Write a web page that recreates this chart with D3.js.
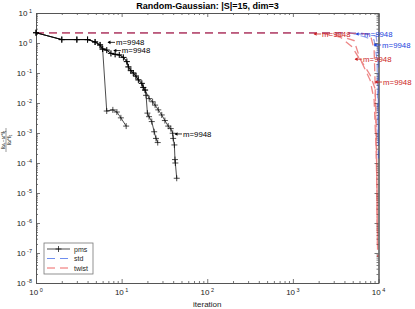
<!DOCTYPE html>
<html>
<head>
<meta charset="utf-8">
<script src="https://cdn.jsdelivr.net/npm/d3@7"></script>
<style>
  body { margin: 0; background: #fff; }
  svg { display: block; font-family: "Liberation Sans", Arial, sans-serif; }
</style>
</head>
<body>
<div id="chart"></div>
<script>
// DATA
const xTicks = [1, 10, 100, 1000, 10000];
const yTicks = [1e-8, 1e-7, 1e-6, 1e-5, 1e-4, 1e-3, 1e-2, 1e-1, 1, 10];

// pms runs [iteration, error]
const pmsRun1 = [[1, 2.2], [2, 1.3], [3, 1.3], [4, 1.3], [4.9, 1.08], [5.6, 0.86], [6, 0.63],
  [6.7, 0.0054], [7.9, 0.0059], [8.8, 0.005], [9.8, 0.0032], [11.3, 0.0017]];
const pmsRun2 = [[1, 2.2], [2, 1.3], [3, 1.3], [4, 1.3], [4.9, 1.08], [5.6, 0.86], [6, 0.63],
  [6.7, 0.58], [7.5, 0.45], [8.4, 0.42], [9.4, 0.4], [10.5, 0.33], [11.5, 0.24], [12, 0.16],
  [12.8, 0.12], [13.7, 0.1], [14.7, 0.079], [15.7, 0.059], [17.2, 0.045], [17.9, 0.033],
  [18.8, 0.027], [19.3, 0.018], [20, 0.0046], [20.9, 0.0035], [22.5, 0.0024], [24, 0.0011],
  [25.2, 0.00066], [26.4, 0.00048]];
const pmsRun3 = [[1, 2.2], [2, 1.3], [3, 1.3], [4, 1.3], [4.9, 1.08], [5.6, 0.86], [6, 0.63],
  [6.7, 0.58], [7.5, 0.45], [8.4, 0.42], [9.4, 0.4], [10.5, 0.33], [11.5, 0.24], [12, 0.16],
  [12.8, 0.12], [13.7, 0.1], [14.7, 0.079], [15.7, 0.059], [17.2, 0.045], [17.9, 0.033],
  [18.8, 0.027], [21, 0.014], [23, 0.011], [24.6, 0.0085], [26.8, 0.0059], [29.4, 0.004],
  [32, 0.0026], [35, 0.0017], [37.5, 0.0014], [39.5, 0.00098], [40, 0.00066], [41.3, 0.0004],
  [42, 0.00013], [42.4, 0.0001], [44, 0.000031]];

// std runs
const stdRun1 = [[1, 2.2], [4660, 2.2], [6970, 1.58], [8890, 1.26], [9630, 0.27], [9890, 5.8e-4]];
const stdRun2 = [[1, 2.2], [6095, 2.15], [9380, 1.71], [9890, 0.58], [9950, 1e-4]];

// twist runs
const twistRun1 = [[1, 2.2], [2078, 2.2], [3560, 1.58], [4920, 0.74], [6430, 0.215], [7980, 0.058],
  [8890, 0.0126], [9380, 2.7e-4], [9630, 6.3e-6], [9770, 7.4e-8]];
const twistRun2 = [[1, 2.2], [2721, 2.2], [5190, 1.2], [6095, 0.29], [7980, 0.086], [9120, 0.03],
  [9380, 0.0027], [9630, 1e-5], [9700, 2e-7]];
const twistRun3 = [[1, 2.2], [3560, 2.2], [7980, 2.0], [8890, 0.6], [9120, 0.05], [9500, 1e-4], [9630, 1e-6]];

// annotation tips
const labelsPms = [[6.75, 1.05], [7.9, 0.56], [40.9, 0.00093]];
const labelsStd = [[5330, 2.0], [8650, 0.86]];
const labelsTwist = [[1722, 2.0], [5190, 0.29], [8890, 0.05]];
const labelText = "m=9948";
const legendNames = ["pms", "std", "twist"];

// CHART
const width = 415;
const height = 309;
const margin = { top: 13, bottom: 26, left: 36, right: 36.5 };
const innerW = width - margin.left - margin.right;
const innerH = height - margin.top - margin.bottom;

const colBlack = "#000";
const colBlue = "#2244dd";
const colRed = "#dd1111";

const svg = d3.select("div#chart").append("svg")
  .attr("width", width)
  .attr("height", height);

const x = d3.scaleLog().domain([1, 1e4]).range([0, innerW]);
const y = d3.scaleLog().domain([1e-8, 10]).range([innerH, 0]);

const g = svg.append("g").attr("transform", `translate(${margin.left}, ${margin.top})`);

// minor tick values
const minorX = [];
xTicks.slice(0, -1).forEach((t) => { for (let k = 2; k < 10; k++) minorX.push(t * k); });
const minorY = [];
yTicks.slice(0, -1).forEach((t) => { for (let k = 2; k < 10; k++) minorY.push(t * k); });

function styleAxis(sel) {
  sel.selectAll("path.domain").attr("stroke", "#555").attr("stroke-width", 1);
  sel.selectAll(".tick line").attr("stroke", "#555").attr("stroke-width", 0.8);
  sel.selectAll(".tick text").remove();
}

// axes: major + minor on all 4 sides, ticks pointing inward
const axisDefs = [
  { make: () => d3.axisBottom(x), vals: xTicks, minor: minorX, tr: `translate(0, ${innerH})` },
  { make: () => d3.axisTop(x), vals: xTicks, minor: minorX, tr: "translate(0, 0)" },
  { make: () => d3.axisLeft(y), vals: yTicks, minor: minorY, tr: "translate(0, 0)" },
  { make: () => d3.axisRight(y), vals: yTicks, minor: minorY, tr: `translate(${innerW}, 0)` },
];
axisDefs.forEach((a) => {
  g.append("g").attr("transform", a.tr)
    .call(a.make().tickValues(a.minor).tickSize(-2).tickSizeOuter(0))
    .call(styleAxis);
  g.append("g").attr("transform", a.tr)
    .call(a.make().tickValues(a.vals).tickSize(-4).tickSizeOuter(0))
    .call(styleAxis);
});

// tick labels with superscripts
xTicks.forEach((t) => {
  const txt = g.append("text")
    .attr("x", x(t))
    .attr("y", innerH + 12)
    .attr("text-anchor", "middle")
    .attr("font-size", 8)
    .attr("fill", "#222");
  txt.append("tspan").text("10");
  txt.append("tspan").attr("dy", -3.5).attr("font-size", 5.5).text(" " + Math.round(Math.log10(t)));
});
yTicks.forEach((t) => {
  const e = Math.round(Math.log10(t));
  const txt = g.append("text")
    .attr("x", -4)
    .attr("y", y(t) + 3)
    .attr("text-anchor", "end")
    .attr("font-size", 8)
    .attr("fill", "#222");
  txt.append("tspan").text("10");
  txt.append("tspan").attr("dy", -3.5).attr("font-size", 5.5).text(" " + (e < 0 ? "-" + Math.abs(e) : e));
});

// title and axis labels
svg.append("text")
  .attr("x", width / 2)
  .attr("y", 9)
  .attr("text-anchor", "middle")
  .attr("font-size", 9)
  .attr("font-weight", "bold")
  .text("Random-Gaussian: |S|=15, dim=3");

svg.append("text")
  .attr("x", margin.left + innerW / 2)
  .attr("y", 307)
  .attr("text-anchor", "middle")
  .attr("font-size", 8)
  .attr("fill", "#222")
  .text("iteration");

const yl = svg.append("g").attr("transform", "translate(6, 140) rotate(-90)");
yl.append("text").attr("x", 0).attr("y", -1).attr("text-anchor", "middle")
  .attr("font-size", 4.5).text("\u2016\u03C9\u2096\u2212\u03C9*\u2016\u2081");
yl.append("line").attr("x1", -12).attr("x2", 12).attr("y1", 0).attr("y2", 0)
  .attr("stroke", "#000").attr("stroke-width", 0.4);
yl.append("text").attr("x", 0).attr("y", 4.5).attr("text-anchor", "middle")
  .attr("font-size", 4.5).text("\u2016\u03C9*\u2016\u2081");

// lines (group opacity so overlapping runs don't stack up)
const line = d3.line().x((d) => x(d[0])).y((d) => y(d[1]));

const plot = g.append("g");
const stdGroup = plot.append("g").attr("opacity", 0.5);
const twistGroup = plot.append("g").attr("opacity", 0.5);

[stdRun1, stdRun2].forEach((run) => {
  stdGroup.append("path").datum(run)
    .attr("d", line)
    .attr("fill", "none")
    .attr("stroke", colBlue)
    .attr("stroke-width", 1.2)
    .attr("stroke-dasharray", "8,5");
});
[twistRun1, twistRun2, twistRun3].forEach((run) => {
  twistGroup.append("path").datum(run)
    .attr("d", line)
    .attr("fill", "none")
    .attr("stroke", colRed)
    .attr("stroke-width", 1.3)
    .attr("stroke-dasharray", "8,5");
});

const plusPath = "M-3,0H3M0,-3V3";
[pmsRun1, pmsRun2, pmsRun3].forEach((run) => {
  plot.append("path").datum(run)
    .attr("d", line)
    .attr("fill", "none")
    .attr("stroke", colBlack)
    .attr("stroke-width", 0.7);
  plot.selectAll(null).data(run).enter()
    .append("path")
    .attr("transform", (d) => `translate(${x(d[0])}, ${y(d[1])})`)
    .attr("d", plusPath)
    .attr("stroke", colBlack)
    .attr("stroke-width", 0.7);
});

// annotations: arrow pointing left to the tip, then text
function annotate(data, color) {
  const a = plot.selectAll(null).data(data).enter()
    .append("g")
    .attr("transform", (d) => `translate(${x(d[0])}, ${y(d[1])})`);
  a.append("line")
    .attr("x1", 1).attr("x2", 8).attr("y1", 0).attr("y2", 0)
    .attr("stroke", color).attr("stroke-width", 0.8);
  a.append("path")
    .attr("d", "M0.5,0L3.5,-1.8L3.5,1.8Z")
    .attr("fill", color);
  a.append("text")
    .attr("x", 9)
    .attr("y", 2.8)
    .attr("font-size", 7.8)
    .attr("fill", color)
    .text(labelText);
}
annotate(labelsPms, colBlack);
annotate(labelsStd, colBlue);
annotate(labelsTwist, "#cc2222");

// legend
const legend = svg.append("g").attr("transform", "translate(44, 243)");
legend.append("rect")
  .attr("width", 49).attr("height", 31)
  .attr("fill", "#fff").attr("stroke", "#777").attr("stroke-width", 0.8);
const legendColors = [colBlack, "#6f8ff0", "#ee6666"];
legendNames.forEach((name, i) => {
  const ly = 6 + i * 9.5;
  const ln = legend.append("line")
    .attr("x1", 3).attr("x2", 26).attr("y1", ly).attr("y2", ly)
    .attr("stroke", legendColors[i]).attr("stroke-width", i === 0 ? 0.7 : 1);
  if (i > 0) ln.attr("stroke-dasharray", "8,5");
  else legend.append("path").attr("transform", `translate(14.5, ${ly})`).attr("d", plusPath)
    .attr("stroke", colBlack).attr("stroke-width", 0.7);
  legend.append("text")
    .attr("x", 30).attr("y", ly + 2.5)
    .attr("font-size", 7)
    .attr("fill", "#222")
    .text(name);
});
</script>
</body>
</html>
